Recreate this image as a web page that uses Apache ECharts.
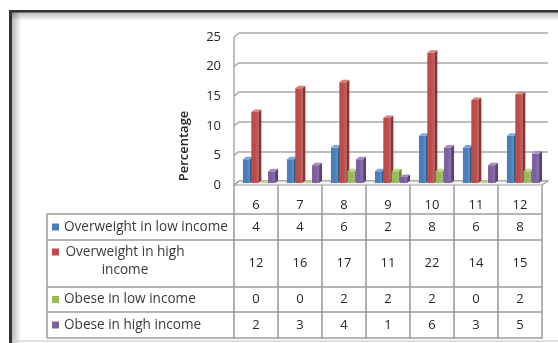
<!DOCTYPE html>
<html>
<head>
<meta charset="utf-8">
<script src="https://cdn.jsdelivr.net/npm/echarts@6/dist/echarts.min.js"></script>
<style>
  html, body { margin: 0; padding: 0; background: #fff; }
  #chart { width: 558px; height: 343px; }
</style>
</head>
<body>
<div id="chart"></div>
<script>
// Age groups (years) along the category axis
const categories = ['6', '7', '8', '9', '10', '11', '12'];

// Series shown in the chart and the data table
const seriesNames = [
  'Overweight in low income',
  'Overweight in high income',
  'Obese in low income',
  'Obese in high income'
];
const legendLabels = [
  'Overweight in low income',
  'Overweight in high\nincome',
  'Obese in low income',
  'Obese in high income'
];
const overweightLow = [4, 4, 6, 2, 8, 6, 8];
const overweightHigh = [12, 16, 17, 11, 22, 14, 15];
const obeseLow = [0, 0, 2, 2, 2, 0, 2];
const obeseHigh = [2, 3, 4, 1, 6, 3, 5];
const seriesValues = [overweightLow, overweightHigh, obeseLow, obeseHigh];

// Value axis range
const yMin = 0, yMax = 25, yStep = 5;

const FONT = '"Open Sans", "Liberation Sans", sans-serif';
const faces = [
  { front: '#4a7ebb', side: '#2f5a8c', top: '#7fa5d6' },
  { front: '#be4b48', side: '#8e3230', top: '#d9817e' },
  { front: '#98b954', side: '#6f8a37', top: '#bcd68a' },
  { front: '#7d60a0', side: '#5a4478', top: '#a791c4' }
];
const DEPTH_X = 3, DEPTH_Y = 2.5;

function barRenderer(s) {
  return function (params, api) {
    const i = api.value(0);
    const v = api.value(1);
    const base = api.coord([i, 0]);
    const top = api.coord([i, v]);
    const band = api.size([1, 0])[0];
    const step = band * 0.19;
    const w = band * 0.16;
    const x0 = base[0] + 3 + (s - 1.5) * step - w / 2;
    const yb = base[1] - 2;
    const yt = top[1] - 2;
    const c = faces[s];
    const children = [];
    if (yb - yt > 0.01) {
      children.push({
        type: 'rect',
        shape: { x: x0, y: yt, width: w, height: yb - yt },
        style: {
          fill: new echarts.graphic.LinearGradient(0, 0, 1, 0, [
            { offset: 0, color: c.front },
            { offset: 0.5, color: c.front },
            { offset: 1, color: echarts.color.lift(c.front, 0.12) }
          ])
        }
      });
      children.push({
        type: 'polygon',
        shape: { points: [[x0 + w, yt], [x0 + w + DEPTH_X, yt - DEPTH_Y], [x0 + w + DEPTH_X, yb - DEPTH_Y], [x0 + w, yb]] },
        style: { fill: c.side }
      });
    }
    children.push({
      type: 'polygon',
      shape: { points: [[x0, yt], [x0 + DEPTH_X, yt - DEPTH_Y], [x0 + w + DEPTH_X, yt - DEPTH_Y], [x0 + w, yt]] },
      style: { fill: c.top }
    });
    return { type: 'group', children: children };
  };
}

const chart = echarts.init(document.getElementById('chart'), null, { renderer: 'canvas' });

const option = {
  animation: false,
  backgroundColor: '#ffffff',
  grid: [
    { left: 234, right: 16, top: 37, bottom: 158 },
    { left: 239, right: 10, top: 33, bottom: 162 }
  ],
  xAxis: [
    {
      gridIndex: 0, type: 'category', data: categories,
      axisLine: { show: false },
      axisTick: { show: true, length: 154, lineStyle: { color: '#9c9c9c', width: 1.5 } },
      axisLabel: { margin: 14, color: '#262626', fontSize: 13, fontFamily: FONT }
    },
    { gridIndex: 1, type: 'category', data: categories, show: false }
  ],
  yAxis: [
    {
      gridIndex: 0, type: 'value', min: yMin, max: yMax, interval: yStep,
      axisLine: { show: false }, axisTick: { show: false },
      splitLine: { show: false },
      axisLabel: { margin: 13, color: '#262626', fontSize: 13, fontFamily: FONT }
    },
    {
      gridIndex: 1, type: 'value', min: yMin, max: yMax, interval: yStep,
      axisLine: { show: false }, axisTick: { show: false },
      axisLabel: { show: false },
      splitLine: { show: true, lineStyle: { color: '#a8a8a8', width: 1.5 } }
    }
  ],
  series: seriesValues.map((vals, s) => ({
    type: 'custom',
    name: seriesNames[s],
    xAxisIndex: 0, yAxisIndex: 0,
    z: 5,
    renderItem: barRenderer(s),
    data: vals.map((v, i) => [i, v])
  }))
};
chart.setOption(option);

// Walls, floor, data table and frame, placed from the axis scales
function px(i, v) { return chart.convertToPixel({ gridIndex: 0 }, [i, v]); }
function pxBack(i, v) { return chart.convertToPixel({ gridIndex: 1 }, [i, v]); }

const gfx = [];
const leftX = 234, rightX = 542, backLeft = 239, backRight = 548;
const y0 = px(0, yMin)[1];
const yTop = px(0, yMax)[1];

// left wall edge and gridline joints
gfx.push({ type: 'line', z: 1, shape: { x1: leftX, y1: y0, x2: leftX, y2: yTop }, style: { stroke: '#a8a8a8', lineWidth: 1.5 } });
for (let v = yMin; v <= yMax; v += yStep) {
  const yf = px(0, v)[1];
  const yb = pxBack(0, v)[1];
  gfx.push({ type: 'line', z: 1, shape: { x1: leftX, y1: yf, x2: backLeft, y2: yb }, style: { stroke: '#a8a8a8', lineWidth: 1.5 } });
}
// floor
const yb0 = pxBack(0, yMin)[1];
gfx.push({
  type: 'polygon', z: 1,
  shape: { points: [[leftX, y0], [backLeft, yb0], [backRight, yb0], [rightX, y0]] },
  style: { fill: '#f4f4f4', stroke: '#a0a0a0', lineWidth: 1.2 }
});

// data table
const tableLeft = 47;
const rowEdges = [214, 240, 287, 312, 338];
const lineStyle = { stroke: '#9c9c9c', lineWidth: 1.5 };
rowEdges.forEach(y => {
  gfx.push({ type: 'line', z: 1, shape: { x1: tableLeft, y1: y, x2: rightX, y2: y }, style: lineStyle });
});
gfx.push({ type: 'line', z: 1, shape: { x1: tableLeft, y1: rowEdges[0], x2: tableLeft, y2: rowEdges[4] }, style: lineStyle });

seriesValues.forEach((vals, r) => {
  const yc = (rowEdges[r] + rowEdges[r + 1]) / 2;
  const wrapped = legendLabels[r].indexOf('\n') >= 0;
  gfx.push({ type: 'rect', z: 2, shape: { x: 52, y: (wrapped ? 252 : yc) - 3.5, width: 7, height: 7 }, style: { fill: faces[r].front } });
  gfx.push({
    type: 'text', z: 2,
    x: wrapped ? 125 : 64, y: wrapped ? yc - 2 : yc,
    style: {
      text: legendLabels[r], fill: '#3a3a3a', font: '13.6px ' + FONT,
      textAlign: wrapped ? 'center' : 'left', textVerticalAlign: 'middle', lineHeight: 18
    }
  });
  vals.forEach((v, i) => {
    const x = px(i, 0)[0];
    gfx.push({
      type: 'text', z: 2, x: x, y: yc,
      style: { text: String(v), fill: '#262626', font: '13px ' + FONT, textAlign: 'center', textVerticalAlign: 'middle' }
    });
  });
});

// axis title
gfx.push({
  type: 'text', z: 2, x: 184, y: 146, rotation: Math.PI / 2,
  style: { text: 'Percentage', fill: '#262626', font: '600 13px ' + FONT, textAlign: 'center', textVerticalAlign: 'middle' }
});

// frame with soft inner shadow
gfx.push({ type: 'rect', z: 0, shape: { x: 12, y: 12, width: 546, height: 9 },
  style: { fill: new echarts.graphic.LinearGradient(0, 0, 0, 1, [{ offset: 0, color: 'rgba(0,0,0,0.28)' }, { offset: 1, color: 'rgba(0,0,0,0)' }]) } });
gfx.push({ type: 'rect', z: 0, shape: { x: 12, y: 12, width: 9, height: 331 },
  style: { fill: new echarts.graphic.LinearGradient(0, 0, 1, 0, [{ offset: 0, color: 'rgba(0,0,0,0.28)' }, { offset: 1, color: 'rgba(0,0,0,0)' }]) } });
gfx.push({ type: 'rect', z: 3, shape: { x: 9, y: 10, width: 549, height: 2.5 }, style: { fill: '#333333' } });
gfx.push({ type: 'rect', z: 3, shape: { x: 9, y: 10, width: 3, height: 333 }, style: { fill: '#333333' } });
gfx.push({ type: 'line', z: 0, shape: { x1: 12, y1: 341, x2: 558, y2: 341 }, style: { stroke: '#d6d6d6', lineWidth: 1.5 } });

chart.setOption({ graphic: { elements: gfx } });
</script>
</body>
</html>
